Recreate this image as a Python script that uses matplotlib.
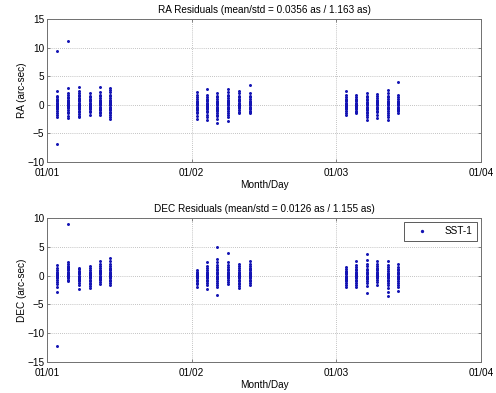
import matplotlib
matplotlib.use("Agg")
import matplotlib.pyplot as plt

# ---------------- data ----------------
pass_times = [0.071, 0.143, 0.219, 0.295, 0.366, 0.435,
              1.035, 1.108, 1.177, 1.253, 1.327, 1.401,
              2.064, 2.135, 2.209, 2.283, 2.359, 2.428]

ra_residuals = [
    [9.4, 2.4, 1.6, 1.3, 1.0, 0.8, 0.6, 0.4, 0.3, 0.1, -0.1, -0.2, -0.4, -0.6, -0.8, -1.1, -1.4, -1.7, -2.2, -6.9],
    [11.2, 2.9, 2.0, 1.7, 1.4, 1.2, 0.9, 0.7, 0.5, 0.3, 0.2, 0.0, -0.2, -0.4, -0.6, -0.9, -1.2, -1.5, -1.9, -2.3],
    [3.1, 2.5, 2.1, 1.8, 1.5, 1.2, 1.0, 0.8, 0.6, 0.4, 0.2, 0.0, -0.2, -0.4, -0.6, -0.8, -1.0, -1.3, -1.6, -1.9, -2.2],
    [2.0, 1.6, 1.3, 1.0, 0.8, 0.6, 0.4, 0.2, 0.0, -0.2, -0.4, -0.6, -0.8, -1.0, -1.3, -1.7],
    [3.1, 2.2, 1.8, 1.5, 1.2, 0.9, 0.7, 0.5, 0.3, 0.1, -0.1, -0.3, -0.5, -0.7, -0.9, -1.2, -1.4, -1.7],
    [3.0, 2.6, 2.2, 1.8, 1.5, 1.2, 0.9, 0.7, 0.5, 0.3, 0.1, -0.1, -0.3, -0.5, -0.7, -0.9, -1.2, -1.5, -1.8, -2.1, -2.4],
    [2.2, 1.7, 1.3, 1.0, 0.7, 0.5, 0.3, 0.1, -0.1, -0.3, -0.5, -0.7, -0.9, -1.2, -1.5, -1.9, -2.5],
    [2.7, 1.8, 1.4, 1.1, 0.8, 0.6, 0.4, 0.2, 0.0, -0.2, -0.4, -0.6, -0.8, -1.0, -1.3, -1.7, -2.1, -2.7],
    [2.0, 1.6, 1.3, 1.0, 0.7, 0.5, 0.3, 0.1, -0.1, -0.3, -0.5, -0.7, -0.9, -1.1, -1.4, -1.7, -2.0, -2.5, -3.2],
    [2.7, 2.2, 1.8, 1.5, 1.2, 0.9, 0.7, 0.5, 0.3, 0.1, -0.1, -0.3, -0.5, -0.8, -1.1, -1.4, -1.8, -2.2, -2.8],
    [2.5, 2.0, 1.6, 1.3, 1.0, 0.8, 0.6, 0.4, 0.2, 0.0, -0.2, -0.4, -0.6, -0.9, -1.2, -1.5],
    [3.5, 2.1, 1.6, 1.3, 1.0, 0.7, 0.5, 0.3, 0.1, -0.1, -0.3, -0.5, -0.7, -1.0, -1.2, -1.5],
    [2.4, 1.8, 1.4, 1.1, 0.8, 0.6, 0.4, 0.2, 0.0, -0.2, -0.4, -0.6, -0.8, -1.1, -1.4, -1.8],
    [1.7, 1.3, 1.0, 0.8, 0.6, 0.4, 0.2, 0.0, -0.2, -0.4, -0.6, -0.8, -1.0, -1.2, -1.5],
    [2.0, 1.6, 1.3, 1.0, 0.8, 0.5, 0.3, 0.1, -0.1, -0.3, -0.5, -0.7, -0.9, -1.2, -1.5, -1.8, -2.2, -2.7],
    [1.9, 1.5, 1.2, 0.9, 0.7, 0.5, 0.3, 0.1, -0.1, -0.3, -0.5, -0.7, -1.0, -1.3, -1.7, -2.3],
    [2.6, 2.0, 1.6, 1.3, 1.0, 0.7, 0.5, 0.3, 0.1, -0.1, -0.3, -0.5, -0.8, -1.1, -1.4, -1.8, -2.2, -2.7],
    [4.0, 1.7, 1.3, 1.0, 0.7, 0.5, 0.3, 0.1, -0.1, -0.3, -0.5, -0.7, -0.9, -1.1, -1.4],
]

dec_residuals = [
    [1.9, 1.3, 1.0, 0.7, 0.5, 0.3, 0.1, -0.1, -0.3, -0.5, -0.8, -1.1, -1.5, -2.0, -2.8, -12.3],
    [9.0, 2.3, 2.0, 1.7, 1.5, 1.3, 1.1, 0.9, 0.7, 0.5, 0.3, 0.1, -0.1, -0.3, -0.5, -0.7, -0.9],
    [1.4, 1.1, 0.8, 0.6, 0.4, 0.2, 0.0, -0.2, -0.4, -0.6, -0.8, -1.0, -1.3, -1.7, -2.4],
    [1.7, 1.3, 1.0, 0.7, 0.5, 0.3, 0.1, -0.1, -0.3, -0.5, -0.7, -0.9, -1.2, -1.5, -1.8, -2.2],
    [2.6, 2.0, 1.6, 1.3, 1.0, 0.8, 0.6, 0.4, 0.2, 0.0, -0.2, -0.4, -0.6, -0.8, -1.1, -1.5],
    [3.0, 2.5, 2.1, 1.7, 1.4, 1.1, 0.9, 0.7, 0.5, 0.3, 0.1, -0.1, -0.3, -0.5, -0.7, -1.0, -1.3, -1.7],
    [1.0, 0.7, 0.5, 0.3, 0.1, -0.1, -0.3, -0.5, -0.7, -0.9, -1.2, -1.5, -2.0],
    [2.3, 1.7, 1.3, 1.0, 0.7, 0.5, 0.3, 0.1, -0.1, -0.3, -0.5, -0.7, -1.0, -1.3, -1.7, -2.3],
    [4.9, 2.9, 2.3, 1.9, 1.5, 1.2, 0.9, 0.6, 0.4, 0.2, 0.0, -0.2, -0.4, -0.6, -0.9, -1.2, -1.6, -2.0, -3.4],
    [4.0, 2.4, 1.9, 1.5, 1.2, 0.9, 0.7, 0.5, 0.3, 0.1, -0.1, -0.3, -0.5, -0.8, -1.1, -1.5],
    [2.0, 1.6, 1.3, 1.0, 0.7, 0.5, 0.3, 0.1, -0.1, -0.3, -0.5, -0.7, -0.9, -1.2, -1.5, -1.8, -2.2],
    [2.6, 2.1, 1.7, 1.4, 1.1, 0.9, 0.7, 0.5, 0.3, 0.1, -0.1, -0.3, -0.5, -0.7, -1.0, -1.3, -1.6],
    [1.5, 1.1, 0.8, 0.6, 0.4, 0.2, 0.0, -0.2, -0.4, -0.6, -0.8, -1.0, -1.3, -1.6, -2.0],
    [2.6, 1.9, 1.5, 1.2, 0.9, 0.7, 0.5, 0.3, 0.1, -0.1, -0.3, -0.5, -0.7, -1.0, -1.3, -1.6, -2.0],
    [3.8, 2.7, 2.1, 1.6, 1.2, 0.9, 0.6, 0.4, 0.2, 0.0, -0.2, -0.4, -0.6, -0.9, -1.3, -1.8, -3.1],
    [2.6, 2.1, 1.7, 1.4, 1.1, 0.9, 0.7, 0.5, 0.3, 0.1, -0.1, -0.3, -0.5, -0.8, -1.1, -1.6],
    [2.6, 1.9, 1.5, 1.1, 0.8, 0.5, 0.3, 0.1, -0.1, -0.3, -0.5, -0.7, -1.0, -1.3, -1.7, -2.2, -2.8, -3.5],
    [2.0, 1.5, 1.2, 0.9, 0.6, 0.4, 0.2, 0.0, -0.2, -0.4, -0.6, -0.9, -1.2, -1.6, -2.0, -2.6],
]

x_ticks = [0, 1, 2, 3]
x_tick_labels = ["01/01", "01/02", "01/03", "01/04"]
ra_yticks = [-10, -5, 0, 5, 10, 15]
dec_yticks = [-15, -10, -5, 0, 5, 10]
ra_title = "RA Residuals (mean/std = 0.0356 as / 1.163 as)"
dec_title = "DEC Residuals (mean/std = 0.0126 as / 1.155 as)"
series_label = "SST-1"

# ---------------- plot ----------------
plt.rcParams["font.family"] = ["Liberation Sans", "DejaVu Sans"]
FS = 7.2
DOT = "#1414b4"

fig = plt.figure(figsize=(4.96, 3.93), dpi=100)
ax1 = fig.add_axes([47 / 496, 1 - 162 / 393, 434 / 496, 143 / 393])
ax2 = fig.add_axes([47 / 496, 1 - 362 / 393, 434 / 496, 144 / 393])


def flatten(times, groups):
    xs, ys = [], []
    for t, g in zip(times, groups):
        xs.extend([t] * len(g))
        ys.extend(g)
    return xs, ys


def style(ax, yticks, ylabel, title):
    ax.set_xlim(0, 3)
    ax.set_ylim(yticks[0], yticks[-1])
    ax.set_xticks(x_ticks)
    ax.set_xticklabels(x_tick_labels)
    ax.set_yticks(yticks)
    ax.grid(True, color="#b0b0b0", linestyle=(0, (1, 1.5)), linewidth=0.6)
    ax.set_axisbelow(True)
    for s in ax.spines.values():
        s.set_color("#707070")
        s.set_linewidth(0.7)
    ax.tick_params(direction="in", length=2.5, width=0.6, color="#707070",
                   labelsize=FS, top=True, right=True)
    ax.tick_params(axis="x", pad=4.5)
    ax.tick_params(axis="y", pad=2)
    ax.set_xlabel("Month/Day", fontsize=FS, labelpad=1)
    ax.set_ylabel(ylabel, fontsize=FS, labelpad=0)
    ax.set_title(title, fontsize=FS, pad=4)


xs, ys = flatten(pass_times, ra_residuals)
ax1.plot(xs, ys, linestyle="none", marker=".", markersize=2.3, color=DOT,
         label=series_label)
style(ax1, ra_yticks, "RA (arc-sec)", ra_title)

xs, ys = flatten(pass_times, dec_residuals)
ax2.plot(xs, ys, linestyle="none", marker=".", markersize=2.3, color=DOT,
         label=series_label)
style(ax2, dec_yticks, "DEC (arc-sec)", dec_title)
leg = ax2.legend(loc="upper right", fontsize=FS, fancybox=False, framealpha=1,
                 edgecolor="#404040", borderpad=0.45, handlelength=2.6,
                 handletextpad=1.0, borderaxespad=0.4, markerscale=1.2)
leg.get_frame().set_linewidth(0.6)

fig.savefig("out.png", dpi=100)
